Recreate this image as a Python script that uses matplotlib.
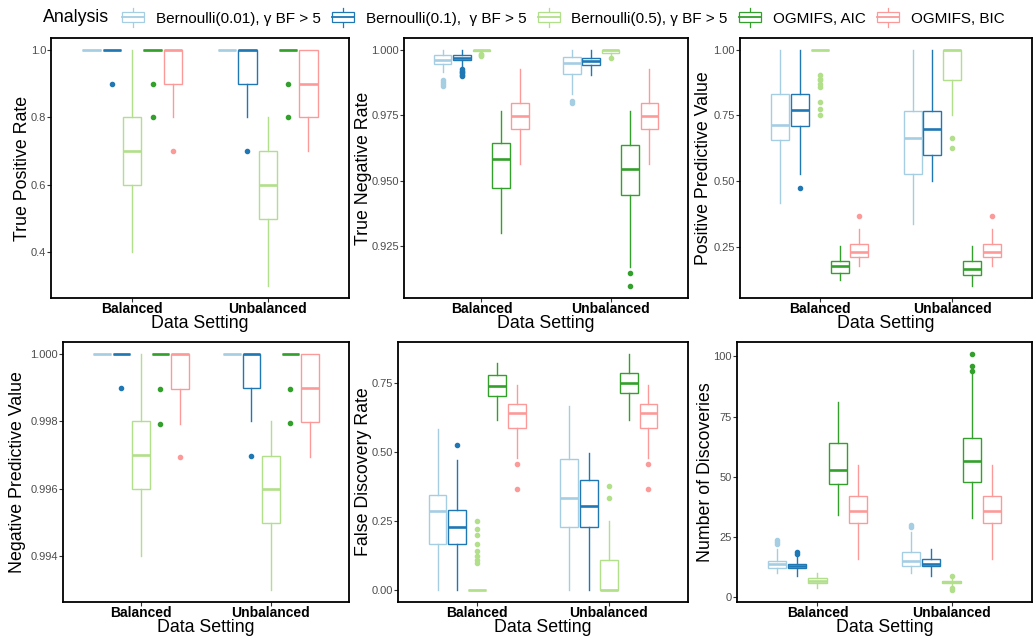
import matplotlib
matplotlib.use("Agg")
import matplotlib.pyplot as plt
from matplotlib.lines import Line2D
from matplotlib.patches import Patch, Rectangle
from matplotlib.legend_handler import HandlerBase

plt.rcParams['font.family'] = ['Liberation Sans', 'DejaVu Sans']

analyses = ["Bernoulli(0.01), \u03b3 BF > 5", "Bernoulli(0.1),  \u03b3 BF > 5",
            "Bernoulli(0.5), \u03b3 BF > 5", "OGMIFS, AIC", "OGMIFS, BIC"]
colors = ["#a6cee3", "#1f78b4", "#b2df8a", "#33a02c", "#fb9a99"]
settings = ["Balanced", "Unbalanced"]

# box stats per analysis: (whisker low, q1, median, q3, whisker high)
tpr_bal = [(1.0, 1.0, 1.0, 1.0, 1.0), (1.0, 1.0, 1.0, 1.0, 1.0), (0.4, 0.6, 0.7, 0.8, 1.0),
           (1.0, 1.0, 1.0, 1.0, 1.0), (0.8, 0.9, 1.0, 1.0, 1.0)]
tpr_unb = [(1.0, 1.0, 1.0, 1.0, 1.0), (0.8, 0.9, 1.0, 1.0, 1.0), (0.3, 0.5, 0.6, 0.7, 0.8),
           (1.0, 1.0, 1.0, 1.0, 1.0), (0.7, 0.8, 0.9, 1.0, 1.0)]
tpr_bal_out = [[], [0.9], [], [0.9, 0.8], [0.7]]
tpr_unb_out = [[], [0.7], [], [0.9, 0.8], []]

tnr_bal = [(0.9915, 0.9947, 0.9960, 0.9979, 1.0), (0.9934, 0.9960, 0.9970, 0.9979, 1.0),
           (0.9990, 0.9997, 1.0, 1.0, 1.0), (0.9300, 0.9473, 0.9584, 0.9643, 0.9766),
           (0.9565, 0.9697, 0.9747, 0.9798, 0.9925)]
tnr_unb = [(0.9833, 0.9909, 0.9950, 0.9972, 1.0), (0.9905, 0.9941, 0.9957, 0.9968, 1.0),
           (0.9980, 0.9989, 1.0, 1.0, 1.0), (0.9170, 0.9444, 0.9545, 0.9635, 0.9766),
           (0.9565, 0.9697, 0.9747, 0.9798, 0.9925)]
tnr_bal_out = [[0.9885, 0.9878, 0.9870, 0.9862],
               [0.9925, 0.9920, 0.9915, 0.9910, 0.9905, 0.9900], [0.9985, 0.9980, 0.9976], [], []]
tnr_unb_out = [[0.9804, 0.9796], [], [0.9970], [0.9148, 0.9097], []]

ppv_bal = [(0.416, 0.656, 0.713, 0.833, 1.0), (0.527, 0.709, 0.770, 0.833, 1.0),
           (1.0, 1.0, 1.0, 1.0, 1.0), (0.122, 0.150, 0.176, 0.197, 0.254),
           (0.176, 0.213, 0.232, 0.260, 0.317)]
ppv_unb = [(0.336, 0.526, 0.666, 0.767, 1.0), (0.500, 0.599, 0.697, 0.767, 1.0),
           (0.751, 0.886, 1.0, 1.0, 1.0), (0.100, 0.141, 0.165, 0.195, 0.254),
           (0.176, 0.213, 0.232, 0.260, 0.317)]
ppv_bal_out = [[], [0.473], [0.903, 0.890, 0.884, 0.871, 0.858, 0.800, 0.776, 0.751], [], [0.369]]
ppv_unb_out = [[], [], [0.666, 0.627], [], [0.369]]

npv_bal = [(1.0, 1.0, 1.0, 1.0, 1.0), (1.0, 1.0, 1.0, 1.0, 1.0), (0.994, 0.996, 0.997, 0.998, 1.0),
           (1.0, 1.0, 1.0, 1.0, 1.0), (0.99793, 0.99897, 1.0, 1.0, 1.0)]
npv_unb = [(1.0, 1.0, 1.0, 1.0, 1.0), (0.99800, 0.99900, 1.0, 1.0, 1.0),
           (0.993, 0.995, 0.99599, 0.99698, 0.998),
           (1.0, 1.0, 1.0, 1.0, 1.0), (0.99695, 0.99798, 0.99899, 1.0, 1.0)]
npv_bal_out = [[], [0.99900], [], [0.99897, 0.99793], [0.99695]]
npv_unb_out = [[], [0.99698], [], [0.99897, 0.99795], []]

fdr_bal = [(0.0, 0.166, 0.286, 0.344, 0.585), (0.0, 0.166, 0.230, 0.292, 0.473),
           (0.0, 0.0, 0.0, 0.0, 0.0), (0.617, 0.705, 0.739, 0.780, 0.822),
           (0.480, 0.588, 0.643, 0.675, 0.744)]
fdr_unb = [(0.0, 0.229, 0.334, 0.476, 0.666), (0.0, 0.229, 0.304, 0.400, 0.498),
           (0.0, 0.0, 0.0, 0.111, 0.250), (0.617, 0.714, 0.751, 0.787, 0.856),
           (0.480, 0.588, 0.643, 0.675, 0.744)]
fdr_bal_out = [[], [0.527], [0.250, 0.222, 0.200, 0.167, 0.143, 0.125, 0.111, 0.100], [], [0.456, 0.368]]
fdr_unb_out = [[], [], [0.377, 0.334], [], [0.456, 0.368]]

nd_bal = [(10, 12, 14, 15.3, 20), (9, 12, 13, 14, 17), (4, 6, 7, 8, 10),
          (34, 47, 53, 64, 81), (16, 31, 36, 42, 55)]
nd_unb = [(10, 13, 15, 19, 27), (9, 13, 14, 16, 20), (5, 6, 6.3, 7, 8),
          (33, 48, 56.6, 66, 93), (16, 31, 36, 42, 55)]
nd_bal_out = [[24, 23, 22], [19, 18], [], [], []]
nd_unb_out = [[30, 29], [], [9, 4, 3], [101, 96, 94], []]

# (label, data..., ticks, format, axes box in px, y-label right edge in px)
panels = [
    ("True Positive Rate", tpr_bal, tpr_unb, tpr_bal_out, tpr_unb_out,
     [0.4, 0.6, 0.8, 1.0], "{:.1f}", (51, 38, 349, 298), 31),
    ("True Negative Rate", tnr_bal, tnr_unb, tnr_bal_out, tnr_unb_out,
     [0.925, 0.95, 0.975, 1.0], "{:.3f}", (404, 38, 688, 298), 372),
    ("Positive Predictive Value", ppv_bal, ppv_unb, ppv_bal_out, ppv_unb_out,
     [0.25, 0.5, 0.75, 1.0], "{:.2f}", (740, 38, 1032, 298), 712),
    ("Negative Predictive Value", npv_bal, npv_unb, npv_bal_out, npv_unb_out,
     [0.994, 0.996, 0.998, 1.0], "{:.3f}", (63, 342, 349, 602), 26),
    ("False Discovery Rate", fdr_bal, fdr_unb, fdr_bal_out, fdr_unb_out,
     [0.0, 0.25, 0.5, 0.75], "{:.2f}", (398, 342, 688, 602), 372),
    ("Number of Discoveries", nd_bal, nd_unb, nd_bal_out, nd_unb_out,
     [0, 25, 50, 75, 100], "{:.0f}", (737, 342, 1032, 602), 714),
]

W, H = 1035, 638
fig = plt.figure(figsize=(W / 100, H / 100), dpi=100)

offsets = [-0.3, -0.15, 0.0, 0.15, 0.3]


def stat(row, out):
    lo, q1, med, q3, hi = row
    return dict(whislo=lo, q1=q1, med=med, q3=q3, whishi=hi, fliers=out)


for label, bal, unb, bal_out, unb_out, yt, fmt, (x0, y0, x1, y1), lx in panels:
    ax = fig.add_axes([x0 / W, 1 - y1 / H, (x1 - x0) / W, (y1 - y0) / H])
    allv = []
    for i in range(5):
        c = colors[i]
        stats = [stat(bal[i], bal_out[i]), stat(unb[i], unb_out[i])]
        allv += list(bal[i]) + list(unb[i]) + bal_out[i] + unb_out[i]
        ax.bxp(stats, positions=[1 + offsets[i], 2 + offsets[i]], widths=0.135,
               showcaps=False, patch_artist=True,
               boxprops=dict(facecolor="white", edgecolor=c, linewidth=1.0),
               whiskerprops=dict(color=c, linewidth=1.0),
               medianprops=dict(color=c, linewidth=1.9, solid_capstyle="butt"),
               flierprops=dict(marker="o", markerfacecolor=c, markeredgecolor=c,
                               markersize=3.0, linestyle="none"))
    lo, hi = min(allv), max(allv)
    pad = (hi - lo) * 0.05
    ax.set_ylim(lo - pad, hi + pad)
    ax.set_xlim(0.4, 2.6)
    ax.set_xticks([1, 2])
    ax.set_xticklabels(settings, fontsize=10, fontweight="bold", color="black")
    ax.set_yticks(yt)
    ax.set_yticklabels([fmt.format(v) for v in yt], fontsize=8, color="#4d4d4d")
    ax.tick_params(axis="both", length=2.75, width=0.8, color="#333333")
    ax.tick_params(axis="x", pad=0.2)
    ax.tick_params(axis="y", pad=0.8)
    ax.set_ylabel(label, fontsize=12.8)
    ax.yaxis.set_label_coords((lx - x0) / (x1 - x0), 0.5)
    ax.set_xlabel("Data Setting", fontsize=12.8)
    ax.xaxis.set_label_coords(0.5, -16.5 / (y1 - y0))
    for s in ax.spines.values():
        s.set_linewidth(1.3)
        s.set_color("black")


class BoxKey(HandlerBase):
    def create_artists(self, legend, orig_handle, xdescent, ydescent,
                       width, height, fontsize, trans):
        c = orig_handle.get_edgecolor()
        cx = width / 2 - xdescent
        top = height * 1.2 - ydescent
        bot = -height * 0.2 - ydescent
        b0 = height * 0.14 - ydescent
        b1 = height * 0.86 - ydescent
        mid = height * 0.5 - ydescent
        arts = [
            Line2D([cx, cx], [b1, top], color=c, lw=0.9),
            Line2D([cx, cx], [bot, b0], color=c, lw=0.9),
            Rectangle((-xdescent, b0), width, b1 - b0, facecolor="white", edgecolor=c, lw=0.9),
            Line2D([-xdescent, width - xdescent], [mid, mid], color=c, lw=1.3),
        ]
        for a in arts:
            a.set_transform(trans)
        return arts


handles = [Patch(facecolor="white", edgecolor=c) for c in colors]
fig.text(43 / W, 1 - 18 / H, "Analysis", fontsize=12.8, va="center", ha="left")
fig.legend(handles, analyses, loc="center left", bbox_to_anchor=(122 / W, 1 - 18 / H),
           ncol=5, frameon=False, fontsize=11, handlelength=1.45, handleheight=1.0,
           handletextpad=0.75, columnspacing=0.75, borderpad=0, borderaxespad=0,
           handler_map={Patch: BoxKey()})

fig.savefig("out.png", dpi=100)
